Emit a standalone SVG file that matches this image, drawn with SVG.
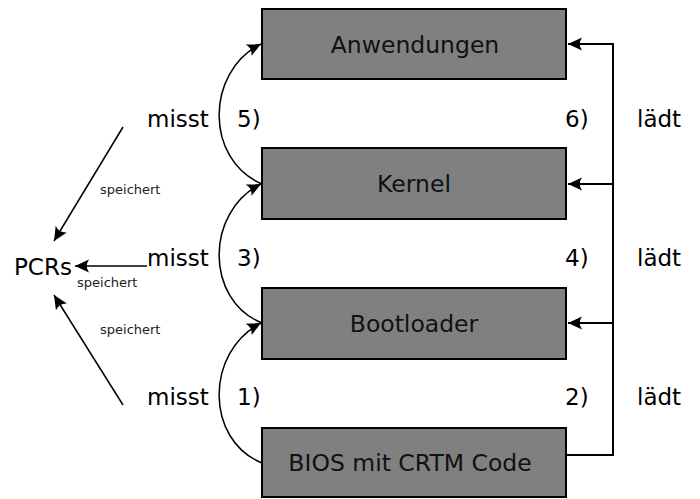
<svg xmlns="http://www.w3.org/2000/svg" width="700" height="499" viewBox="0 0 700 499">
  <style>
    text { font-family: "DejaVu Sans", "Liberation Sans", sans-serif; fill: #000; }
    .big { font-size: 23px; }
    .box-label { font-size: 23.5px; text-anchor: middle; fill: #111; }
    .small { font-size: 13px; fill: #222; }
    .box { fill: #808080; stroke: #000; stroke-width: 2; }
    .wire { fill: none; stroke: #000; stroke-width: 2; }
    .arc { fill: none; stroke: #000; stroke-width: 1.5; }
  </style>
  <defs>
    <marker id="arrow" markerUnits="userSpaceOnUse" markerWidth="18" markerHeight="18" viewBox="-15 -9 18 18" refX="0" refY="0" orient="auto">
      <path d="M0,0 L-14,-6.5 Q-9.5,0 -14,6.5 Z" fill="#000"/>
    </marker>
  </defs>

  <!-- boxes of the boot chain -->
  <g id="anwendungen">
    <rect class="box" x="262" y="9" width="304" height="70"/>
    <text class="box-label" x="415" y="53">Anwendungen</text>
  </g>
  <g id="kernel">
    <rect class="box" x="262" y="148" width="304" height="71"/>
    <text class="box-label" x="414" y="192">Kernel</text>
  </g>
  <g id="bootloader">
    <rect class="box" x="262" y="288" width="304" height="71"/>
    <text class="box-label" x="414" y="332">Bootloader</text>
  </g>
  <g id="bios">
    <rect class="box" x="262" y="428" width="304" height="69"/>
    <text class="box-label" x="410" y="471">BIOS mit CRTM Code</text>
  </g>

  <g id="pcrs">
    <text class="big" x="14" y="275">PCRs</text>
  </g>

  <!-- connectors -->
  <g id="connectors">
    <!-- measuring arcs on the left -->
    <path class="arc" d="M262,463 C205,440 205,352 261,323" marker-end="url(#arrow)"/>
    <path class="arc" d="M262,323 C205,300 205,212 261,184" marker-end="url(#arrow)"/>
    <path class="arc" d="M262,184 C205,160 205,72 261,44" marker-end="url(#arrow)"/>
    <!-- loading chain on the right -->
    <path class="wire" d="M566,455 H613 V44 H568" marker-end="url(#arrow)"/>
    <path class="wire" d="M613,184 H568" marker-end="url(#arrow)"/>
    <path class="wire" d="M613,323 H568" marker-end="url(#arrow)"/>
    <!-- storing into the PCRs -->
    <path class="arc" d="M123,127 L54,241" marker-end="url(#arrow)"/>
    <path class="arc" d="M147,266 L75,266" marker-end="url(#arrow)"/>
    <path class="arc" d="M123,405 L54,295" marker-end="url(#arrow)"/>
  </g>

  <!-- connector labels -->
  <g id="labels">
    <text class="big" x="147" y="127">misst</text>
    <text class="big" x="147" y="266">misst</text>
    <text class="big" x="147" y="405">misst</text>
    <text class="big" x="237" y="127">5)</text>
    <text class="big" x="237" y="266">3)</text>
    <text class="big" x="237" y="405">1)</text>
    <text class="big" x="565" y="127">6)</text>
    <text class="big" x="565" y="266">4)</text>
    <text class="big" x="565" y="405">2)</text>
    <text class="big" x="637" y="127">lädt</text>
    <text class="big" x="637" y="266">lädt</text>
    <text class="big" x="637" y="405">lädt</text>
    <text class="small" x="100" y="194">speichert</text>
    <text class="small" x="77" y="287">speichert</text>
    <text class="small" x="100" y="334">speichert</text>
  </g>
</svg>
